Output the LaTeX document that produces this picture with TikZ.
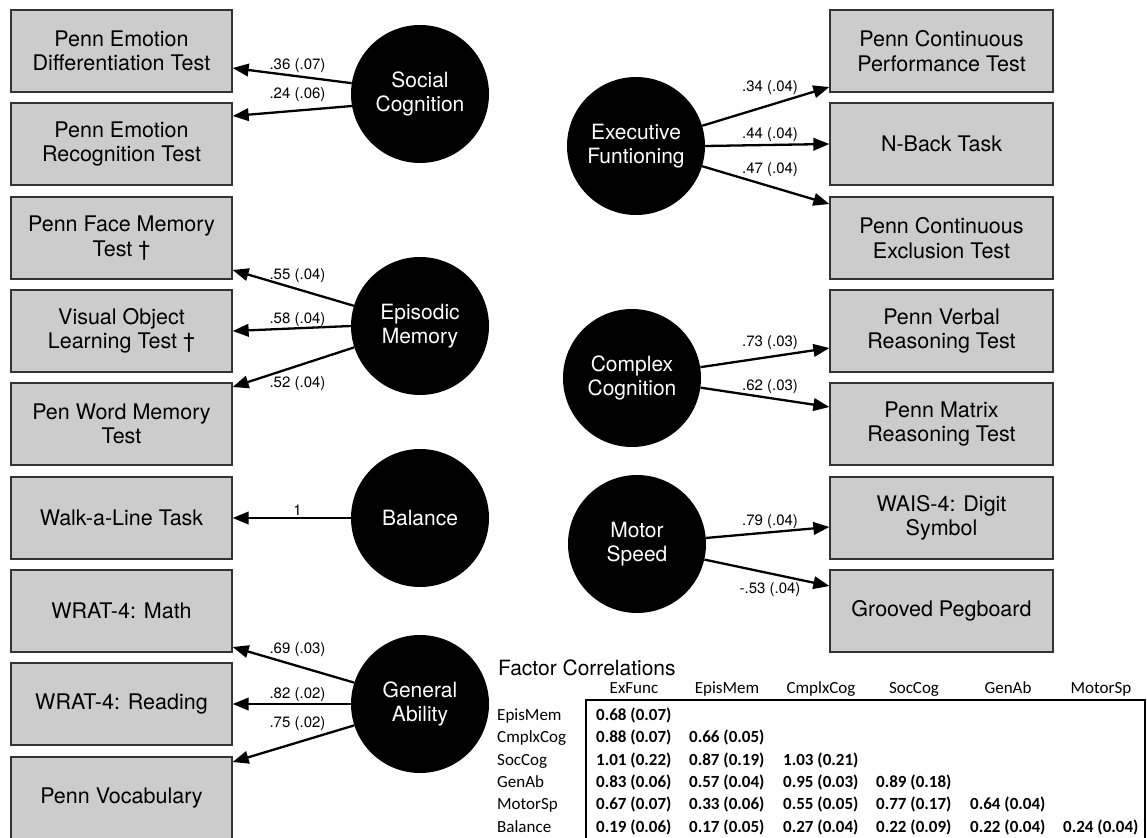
\documentclass[tikz,border=0pt]{standalone}
\usepackage{fontspec}
\setmainfont{TeX Gyre Heros}
\newfontfamily\calib{Carlito}
\usetikzlibrary{arrows.meta}
\begin{document}
\begin{tikzpicture}[x=1pt,y=-1pt,
  obs/.style={draw=black!80, line width=1.3pt, fill=black!20, minimum width=221pt, minimum height=82pt, align=center, inner sep=0pt, font=\fontsize{21.5}{24.5}\selectfont},
  lat/.style={circle, fill=black, minimum size=138pt, inner sep=0pt, align=center, text=white, font=\fontsize{21}{24.5}\selectfont},
  load/.style={line width=2.3pt, -{Triangle[length=16pt,width=12.5pt]}},
  lab/.style={font=\fontsize{15}{17}\selectfont, inner sep=0pt},
  thead/.style={font=\calib\fontsize{17}{20}\selectfont, inner sep=0pt, anchor=base},
  rhead/.style={font=\calib\fontsize{17}{20}\selectfont, inner sep=0pt, anchor=base west},
  tval/.style={font=\calib\bfseries\fontsize{17}{20}\selectfont, inner sep=0pt, anchor=base west}
]
\fill[white] (0,0) rectangle (1147,837);
\useasboundingbox (0,0) rectangle (1147,837);

% left observed boxes
\node[obs] (l1) at (121.5,51)  {Penn Emotion\\Differentiation Test};
\node[obs] (l2) at (121.5,144) {Penn Emotion\\Recognition Test};
\node[obs] (l3) at (121.5,238) {Penn Face Memory\\Test †};
\node[obs] (l4) at (121.5,331) {Visual Object\\Learning Test †};
\node[obs] (l5) at (121.5,424) {Pen Word Memory\\Test};
\node[obs] (l6) at (121.5,518) {Walk-a-Line Task};
\node[obs] (l7) at (121.5,611) {WRAT-4: Math};
\node[obs] (l8) at (121.5,704) {WRAT-4: Reading};
\node[obs] (l9) at (121.5,798) {Penn Vocabulary};

% right observed boxes
\node[obs, minimum width=223pt] (r1) at (941.5,51)  {Penn Continuous\\Performance Test};
\node[obs, minimum width=223pt] (r2) at (941.5,144) {N-Back Task};
\node[obs, minimum width=223pt] (r3) at (941.5,238) {Penn Continuous\\Exclusion Test};
\node[obs, minimum width=223pt] (r4) at (941.5,331) {Penn Verbal\\Reasoning Test};
\node[obs, minimum width=223pt] (r5) at (941.5,424) {Penn Matrix\\Reasoning Test};
\node[obs, minimum width=223pt] (r6) at (941.5,518) {WAIS-4: Digit\\Symbol};
\node[obs, minimum width=223pt] (r7) at (941.5,611) {Grooved Pegboard};

% latent factors
\node[lat] (soc) at (420,94)  {Social\\Cognition};
\node[lat] (epi) at (420,326) {Episodic\\Memory};
\node[lat] (bal) at (420,518) {Balance};
\node[lat] (gen) at (420,704) {General\\Ability};
\node[lat] (exe) at (636,146) {Executive\\Funtioning};
\node[lat] (cpx) at (632,378) {Complex\\Cognition};
\node[lat] (mot) at (637,544) {Motor\\Speed};

% loadings, left
\draw[load] (soc.171) -- ([yshift=-17pt]l1.east);
\draw[load] (soc.190) -- ([yshift=28pt]l2.east);
\draw[load] (epi.163) -- ([yshift=-32pt]l3.east);
\draw[load] (epi.180) -- (l4.east);
\draw[load] (epi.198) -- ([yshift=37pt]l5.east);
\draw[load] (bal.west) -- (l6.east);
\draw[load] (gen.162) -- ([yshift=-36pt]l7.east);
\draw[load] (gen.180) -- (l8.east);
\draw[load] (gen.198) -- ([yshift=36pt]l9.east);

\node[lab] (a1) at (297.5,66)  {.36 (.07)};
\node[lab] (a2) at (297.5,95)  {.24 (.06)};
\node[lab] (a3) at (297.5,276) {.55 (.04)};
\node[lab] (a4) at (297.5,320) {.58 (.04)};
\node[lab] (a5) at (297.5,384) {.52 (.04)};
\node[lab] (a6) at (297.5,510) {1};
\node[lab] (a7) at (297.5,650) {.69 (.03)};
\node[lab] (a8) at (297.5,695) {.82 (.02)};
\node[lab] (a9) at (297.5,724) {.75 (.02)};

% loadings, right
\draw[load] (exe.17)  -- ([yshift=-36pt]r1.west);
\draw[load] (exe.0)   -- (r2.west);
\draw[load] (exe.-17) -- ([yshift=34pt]r3.west);
\draw[load] (cpx.9)   -- ([yshift=-17pt]r4.west);
\draw[load] (cpx.-8)  -- ([yshift=17pt]r5.west);
\draw[load] (mot.5)   -- ([yshift=-9pt]r6.west);
\draw[load] (mot.-13) -- ([yshift=25pt]r7.west);

\node[lab] (b1) at (770,88)  {.34 (.04)};
\node[lab] (b2) at (770,135) {.44 (.04)};
\node[lab] (b3) at (770,170) {.47 (.04)};
\node[lab] (b4) at (770,343) {.73 (.03)};
\node[lab] (b5) at (770,387) {.62 (.03)};
\node[lab] (b6) at (770,522) {.79 (.04)};
\node[lab] (b7) at (770,590) {-.53 (.04)};

% factor correlations table
\node[anchor=base west, inner sep=0pt, font=\fontsize{21}{24}\selectfont] (ttl) at (498,675) {Factor Correlations};
\draw[line width=2pt] (586,845) -- (586,700) -- (1145,700) -- (1145,845);

\node[thead] (h1) at (634,693)  {ExFunc};
\node[thead] (h2) at (727,693)  {EpisMem};
\node[thead] (h3) at (821,693)  {CmplxCog};
\node[thead] (h4) at (914,693)  {SocCog};
\node[thead] (h5) at (1008,693) {GenAb};
\node[thead] (h6) at (1101,693) {MotorSp};

\node[rhead] (g1) at (497,720) {EpisMem};
\node[rhead] (g2) at (497,742) {CmplxCog};
\node[rhead] (g3) at (497,765) {SocCog};
\node[rhead] (g4) at (497,787) {GenAb};
\node[rhead] (g5) at (497,809) {MotorSp};
\node[rhead] (g6) at (497,832) {Balance};

\node[tval] (v11) at (596,720) {0.68 (0.07)};
\node[tval] (v21) at (596,742) {0.88 (0.07)};
\node[tval] (v22) at (689,742) {0.66 (0.05)};
\node[tval] (v31) at (596,765) {1.01 (0.22)};
\node[tval] (v32) at (689,765) {0.87 (0.19)};
\node[tval] (v33) at (783,765) {1.03 (0.21)};
\node[tval] (v41) at (596,787) {0.83 (0.06)};
\node[tval] (v42) at (689,787) {0.57 (0.04)};
\node[tval] (v43) at (783,787) {0.95 (0.03)};
\node[tval] (v44) at (876,787) {0.89 (0.18)};
\node[tval] (v51) at (596,809) {0.67 (0.07)};
\node[tval] (v52) at (689,809) {0.33 (0.06)};
\node[tval] (v53) at (783,809) {0.55 (0.05)};
\node[tval] (v54) at (876,809) {0.77 (0.17)};
\node[tval] (v55) at (970,809) {0.64 (0.04)};
\node[tval] (v61) at (596,832) {0.19 (0.06)};
\node[tval] (v62) at (689,832) {0.17 (0.05)};
\node[tval] (v63) at (783,832) {0.27 (0.04)};
\node[tval] (v64) at (876,832) {0.22 (0.09)};
\node[tval] (v65) at (970,832) {0.22 (0.04)};
\node[tval] (v66) at (1063,832) {0.24 (0.04)};
\end{tikzpicture}
\end{document}
